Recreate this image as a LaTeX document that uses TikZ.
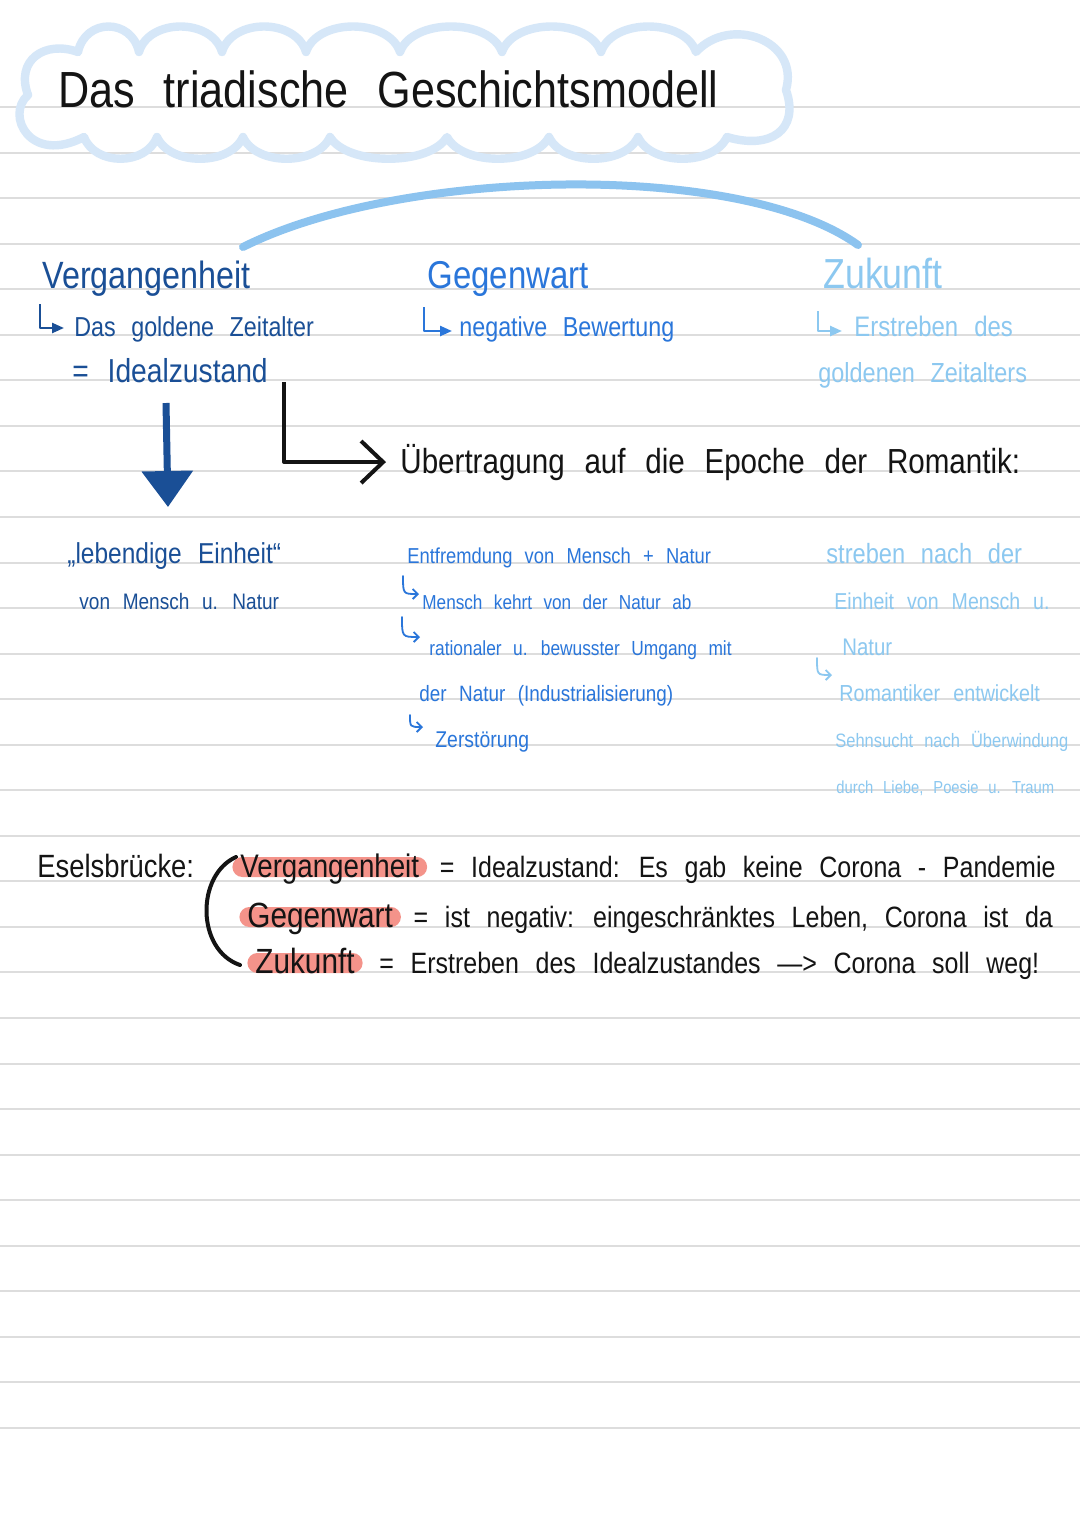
\documentclass[tikz,border=0pt]{standalone}
\usepackage{fontspec}
\setmainfont{Liberation Sans}[FakeStretch=0.85,WordSpace=2.4]
\usepackage{tikz}
\usetikzlibrary{arrows.meta, positioning}

\definecolor{pastblue}{HTML}{1A4F96}
\definecolor{nowblue}{HTML}{2A76DA}
\definecolor{futblue}{HTML}{8CC8F0}
\definecolor{cloudblue}{HTML}{D6E7F8}
\definecolor{swoopblue}{HTML}{8CC3EF}
\definecolor{ruleline}{HTML}{DDDDDD}
\definecolor{hlred}{HTML}{F4938A}
\definecolor{ink}{HTML}{141414}

\begin{document}
\begin{tikzpicture}[x=0.5pt, y=-0.5pt,
  fs/.style={font=\fontsize{#1pt}{#1pt}\selectfont},
  txt/.style={inner sep=0pt, anchor=base west},
  past/.style={txt, text=pastblue},
  now/.style={txt, text=nowblue},
  fut/.style={txt, text=futblue},
  note/.style={txt, text=ink},
  hlkey/.style={note, fill=hlred, rounded corners=5pt, inner xsep=4pt, inner ysep=0pt, text height=10pt, text depth=0pt},
  lhook/.style={-{Triangle[length=6pt,width=5pt]}, line width=1.2pt, line join=round},
  curl/.style={-{Straight Barb[length=2.5pt,width=5pt]}, line width=0.9pt, line cap=round},
  bigarrow/.style={-{Triangle[length=18pt,width=25pt]}, line width=3.5pt, draw=pastblue},
  link/.style={-{Straight Barb[length=11pt,width=21pt]}, line width=2pt, draw=ink, line join=round},
  swoop/.style={line width=4pt, draw=swoopblue, line cap=round},
  paper/.style={line width=1pt, draw=ruleline}
]

\fill[white] (0,0) rectangle (1080,1527);
\useasboundingbox (0,0) rectangle (1080,1527);

% ruled paper
\foreach \i in {0,...,29}
  \draw[paper] (0,{107+45.55*\i}) -- (1080,{107+45.55*\i});

% cloud round the title
\draw[line width=4.2pt, draw=cloudblue, line join=round, line cap=round]
  (78,52)
  \foreach \a/\b in {78/139,139/222,222/306,306/400,400/502,502/601,601/696}
    { .. controls ({\a+0.12*(\b-\a)},18) and ({\b-0.12*(\b-\a)},18) .. (\b,52) }
  .. controls (730,15) and (800,40) .. (786,90)
  .. controls (800,130) and (770,150) .. (727,137)
  \foreach \a/\b in {727/638,638/549,549/447,447/330,330/243,243/157,157/84}
    { .. controls ({\a-0.15*(\a-\b)},166) and ({\b+0.15*(\a-\b)},166) .. (\b,137) }
  .. controls (30,165) and (5,115) .. (28,95)
  .. controls (15,60) and (45,40) .. (78,52);

\node[note, fs=25.4] (title) at (58,107) {Das triadische Geschichtsmodell};

% the three times
\coordinate (swL) at (243,247);
\coordinate (swR) at (858,245);
\draw[swoop] (swL) .. controls (400,168) and (740,160) .. (swR);

\node[past, fs=19] (vgh) at (42,288) {Vergangenheit};
\node[past, fs=13.7] (gold) at (74,336) {Das goldene Zeitalter};
\node[past, fs=16.6] (ideal) at (72,382) {= Idealzustand};

\node[now, fs=19.4] (gw) at (427,288) {Gegenwart};
\node[now, fs=13.7] (neg) at (459,336) {negative Bewertung};

\node[fut, fs=21] (zk) at (823,288) {Zukunft};
\node[fut, fs=14.1] (erst) at (854,336) {Erstreben des};
\node[fut, fs=13.8] (goldz) at (818,382) {goldenen Zeitalters};

\draw[lhook, pastblue] ([xshift=-17pt,yshift=16pt]gold.base west) |- ([xshift=-5pt,yshift=4pt]gold.base west);
\draw[lhook, nowblue] ([xshift=-17.5pt,yshift=14.5pt]neg.base west) |- ([xshift=-3.5pt,yshift=2.5pt]neg.base west);
\draw[lhook, futblue] ([xshift=-18pt,yshift=12.5pt]erst.base west) |- ([xshift=-6pt,yshift=2.5pt]erst.base west);

% transfer to Romantik
\node[note, fs=17.4] (ueb) at (400,473) {Übertragung auf die Epoche der Romantik:};
\draw[link, shorten >=7pt] ([xshift=8pt]ideal.base east) |- (ueb.west);

\coordinate (dnTop) at (166,403);
\coordinate (dnTip) at (168,507);
\draw[bigarrow] (dnTop) -- (dnTip);

\node[past, fs=14.4] (leb) at (67,563) {„lebendige Einheit“};
\node[past, fs=11.2] (vmn) at (79,609) {von Mensch u. Natur};

\node[now, fs=10.8] (entf) at (407,563) {Entfremdung von Mensch + Natur};
\node[now, fs=10.1] (kehrt) at (422,609) {Mensch kehrt von der Natur ab};
\node[now, fs=10.2] (ratio) at (429,655) {rationaler u. bewusster Umgang mit};
\node[now, fs=11.1] (natind) at (419,701) {der Natur (Industrialisierung)};
\node[now, fs=11.4] (zerst) at (435,747) {Zerstörung};

\draw[curl, nowblue] ([xshift=-9.5pt,yshift=16.5pt]kehrt.base west) .. controls ([xshift=-9.5pt,yshift=7.5pt]kehrt.base west) .. ([xshift=-1.5pt,yshift=7.5pt]kehrt.base west);
\draw[curl, nowblue] ([xshift=-13.5pt,yshift=19pt]ratio.base west) .. controls ([xshift=-13.5pt,yshift=9pt]ratio.base west) .. ([xshift=-4.5pt,yshift=9pt]ratio.base west);
\draw[curl, nowblue] ([xshift=-12.5pt,yshift=16pt]zerst.base west) .. controls ([xshift=-12.5pt,yshift=10pt]zerst.base west) .. ([xshift=-6pt,yshift=10pt]zerst.base west);

\node[fut, fs=13.9] (streb) at (826,563) {streben nach der};
\node[fut, fs=11.5] (einh) at (834,609) {Einheit von Mensch u.};
\node[fut, fs=12] (natur) at (842,655) {Natur};
\node[fut, fs=11.6] (roman) at (839,701) {Romantiker entwickelt};
\node[fut, fs=9.7] (sehn) at (835,747) {Sehnsucht nach Überwindung};
\node[fut, fs=8.7] (durch) at (836,793) {durch Liebe, Poesie u. Traum};

\draw[curl, futblue] ([xshift=-11pt,yshift=21.5pt]roman.base west) .. controls ([xshift=-11pt,yshift=13pt]roman.base west) .. ([xshift=-3.5pt,yshift=13pt]roman.base west);

% Eselsbruecke
\node[note, fs=16.1] (esel) at (37,877) {Eselsbrücke:};
\coordinate (brT) at (236,857);
\coordinate (brB) at (240,965);
\draw[ink, line width=2pt, line cap=round] (brT) .. controls (196,875) and (196,950) .. (brB);

\node[hlkey, fs=16.3] (k1) at (232,877) {Vergangenheit};
\node[note, fs=14.7, right=6pt of k1.base east, anchor=base west] (r1) {= Idealzustand: Es gab keine Corona - Pandemie};
\node[hlkey, fs=17.5] (k2) at (239,927) {Gegenwart};
\node[note, fs=14.7, right=6pt of k2.base east, anchor=base west] (r2) {= ist negativ: eingeschränktes Leben, Corona ist da};
\node[hlkey, fs=17.5] (k3) at (247,973) {Zukunft};
\node[note, fs=14.7, right=8pt of k3.base east, anchor=base west] (r3) {= Erstreben des Idealzustandes —> Corona soll weg!};

\end{tikzpicture}
\end{document}
